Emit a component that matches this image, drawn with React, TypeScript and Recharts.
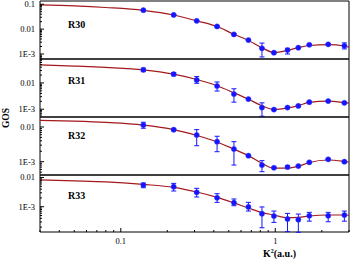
import { ComposedChart, XAxis, YAxis, Line, Scatter, ErrorBar, ReferenceArea } from 'recharts';

// measured K^2 positions (a.u.) and fit grid
const K2 = [0.14, 0.22, 0.31, 0.42, 0.54, 0.67, 0.82, 0.98, 1.2, 1.41, 1.66, 2.2, 2.8];
const fitK2 = [0.03, 0.05, 0.08, 0.14, 0.22, 0.31, 0.42, 0.54, 0.67, 0.82, 0.98, 1.2, 1.41, 1.66, 2.2, 2.8, 3.0];

const xTicks = [0.03, 0.04, 0.05, 0.06, 0.07, 0.08, 0.09, 0.1, 0.2, 0.3, 0.4, 0.5, 0.6, 0.7, 0.8, 0.9, 1, 2, 3];

// R30
const r30 = [0.0575, 0.0373, 0.0215, 0.0128, 0.00614, 0.00363, 0.00169, 0.00113, 0.00145, 0.00179, 0.00236, 0.00244, 0.00215];
const r30Lo = [0.0555, 0.036, 0.0207, 0.0123, 0.0059, 0.0035, 0.00076, 0.00108, 0.001, 0.00172, 0.00226, 0.00234, 0.0016];
const r30Hi = [0.0595, 0.0386, 0.0223, 0.0133, 0.0064, 0.0038, 0.00275, 0.00118, 0.00169, 0.00186, 0.00246, 0.00254, 0.0028];
const r30Fit = [0.095, 0.086, 0.074, 0.057, 0.037, 0.0215, 0.0128, 0.0062, 0.0035, 0.0018, 0.00115, 0.0014, 0.0018, 0.0022, 0.0024, 0.0021, 0.0019];

// R31
const r31 = [0.0316, 0.0216, 0.013, 0.00767, 0.00378, 0.00243, 0.00116, 0.00097, 0.00116, 0.00134, 0.00186, 0.00204, 0.00175];
const r31Lo = [0.027, 0.019, 0.0097, 0.00492, 0.00186, 0.00233, 0.00054, 0.00093, 0.00108, 0.00128, 0.00178, 0.00196, 0.00165];
const r31Hi = [0.037, 0.025, 0.0175, 0.0109, 0.006, 0.00253, 0.00175, 0.00101, 0.00124, 0.0014, 0.00194, 0.00212, 0.00186];
const r31Fit = [0.049, 0.044, 0.039, 0.0316, 0.0216, 0.0135, 0.0078, 0.0042, 0.0024, 0.00135, 0.00098, 0.00112, 0.00138, 0.00182, 0.00204, 0.00178, 0.0017];

// R32
const r32 = [0.0114, 0.00836, 0.00588, 0.00377, 0.00232, 0.00149, 0.0008, 0.00067, 0.0007, 0.00075, 0.00096, 0.00117, 0.001];
const r32Lo = [0.0092, 0.0078, 0.00289, 0.00194, 0.0008, 0.00143, 0.000515, 0.00064, 0.00063, 0.00072, 0.00092, 0.00112, 0.00096];
const r32Hi = [0.0137, 0.009, 0.0084, 0.0054, 0.00377, 0.00155, 0.00107, 0.0007, 0.00077, 0.00078, 0.001, 0.00122, 0.00104];
const r32Fit = [0.0156, 0.0147, 0.0135, 0.0113, 0.0084, 0.0057, 0.0037, 0.0023, 0.0015, 0.0009, 0.00065, 0.00065, 0.00074, 0.00095, 0.00112, 0.00102, 0.00098];

// R33
const r33 = [0.00554, 0.00484, 0.00311, 0.00203, 0.00137, 0.00098, 0.000575, 0.00048, 0.00038, 0.00036, 0.00049, 0.00049, 0.00052];
const r33Lo = [0.00447, 0.00345, 0.00215, 0.00141, 0.00108, 0.00071, 0.00019, 0.00029, 0.00014, 0.000133, 0.00032, 0.000306, 0.00032];
const r33Hi = [0.00648, 0.0063, 0.00427, 0.00279, 0.00184, 0.00141, 0.00098, 0.00071, 0.00059, 0.00056, 0.00064, 0.00064, 0.00071];
const r33Fit = [0.0083, 0.0077, 0.0071, 0.0058, 0.0046, 0.0032, 0.0021, 0.00135, 0.0009, 0.00063, 0.00052, 0.00042, 0.00043, 0.00048, 0.00052, 0.00052, 0.00051];

const serif = '"Liberation Serif", "Times New Roman", serif';
const blue = '#1414ff';
const red = '#a3191c';

const panels = [
  { name: 'R30', top: 1, h: 58, dom: [6.3e-4, 0.135], g: r30, lo: r30Lo, hi: r30Hi, fit: r30Fit, ly: 26.5 },
  { name: 'R31', top: 59, h: 58, dom: [5.06e-4, 0.0817], g: r31, lo: r31Lo, hi: r31Hi, fit: r31Fit, ly: 24.5 },
  { name: 'R32', top: 117, h: 58, dom: [4.14e-4, 0.0194], g: r32, lo: r32Lo, hi: r32Hi, fit: r32Fit, ly: 21.5 },
  { name: 'R33', top: 175, h: 57, dom: [1.36e-4, 0.0122], g: r33, lo: r33Lo, hi: r33Hi, fit: r33Fit, ly: 23.5 },
];

const PAD = 16;
const LEFT = 40;

const isDecade = (v: number) => {
  const l = Math.log10(v);
  return Math.abs(l - Math.round(l)) < 1e-6;
};

function yTicks(lo: number, hi: number) {
  const out: number[] = [];
  for (let e = -5; e <= 0; e++) {
    for (let m = 1; m <= 9; m++) {
      const v = Number((m * Math.pow(10, e)).toPrecision(6));
      if (v >= lo && v <= hi) out.push(v);
    }
  }
  return out;
}

const yText = (v: number) => (v >= 0.01 ? String(v) : '1E' + Math.round(Math.log10(v)));

function XTick(props: any, showLabel: boolean) {
  const { x, y, payload } = props;
  const major = isDecade(payload.value);
  return (
    <g>
      <line x1={x} x2={x} y1={y} y2={y - (major ? 4 : 2)} stroke="#000" strokeWidth={1} />
      {showLabel && major && (
        <text x={x} y={y + 12} textAnchor="middle" fontSize={8.5} fontFamily={serif} fill="#000">
          {payload.value}
        </text>
      )}
    </g>
  );
}

function YTick(props: any) {
  const { x, y, payload } = props;
  const major = isDecade(payload.value);
  return (
    <g>
      <line x1={x} x2={x + (major ? 4 : 2)} y1={y} y2={y} stroke="#000" strokeWidth={1} />
      {major && (
        <text x={x - 5} y={y} dy="0.35em" textAnchor="end" fontSize={8.5} fontFamily={serif} fill="#000">
          {yText(payload.value)}
        </text>
      )}
    </g>
  );
}

function Panel({ p, idx }: { p: (typeof panels)[number]; idx: number }) {
  const last = idx === panels.length - 1;
  const axisH = last ? 27 : 0;
  const height = PAD + p.h + (last ? axisH : PAD);
  const pts = K2.map((k, i) => ({ k, g: p.g[i], err: [p.g[i] - p.lo[i], p.hi[i] - p.g[i]] }));
  const fit = fitK2.map((k, i) => ({ k, g: p.fit[i] }));
  return (
    <div style={{ position: 'absolute', left: 0, top: p.top - PAD }}>
      <ComposedChart width={350} height={height} margin={{ top: PAD, right: 1, bottom: last ? 0 : PAD, left: 0 }}>
        <XAxis
          dataKey="k"
          type="number"
          scale="log"
          domain={[0.03, 3]}
          allowDataOverflow
          ticks={xTicks}
          interval={0}
          height={axisH}
          tickSize={0}
          tickMargin={0}
          axisLine={false}
          tickLine={false}
          tick={(t: any) => XTick(t, last)}
          label={
            last
              ? {
                  content: (lp: any) => (
                    <text x={263} y={lp.viewBox.y + 25} fontSize={10} fontWeight="bold" fontFamily={serif} fill="#000">
                      K<tspan fontSize={6} dy={-4}>2</tspan>
                      <tspan dy={4}>(a.u.)</tspan>
                    </text>
                  ),
                }
              : undefined
          }
        />
        <YAxis
          dataKey="g"
          type="number"
          scale="log"
          domain={p.dom}
          allowDataOverflow
          ticks={yTicks(p.dom[0], p.dom[1])}
          interval={0}
          width={LEFT}
          tickSize={0}
          tickMargin={0}
          axisLine={false}
          tickLine={false}
          tick={YTick}
          label={
            idx === 1
              ? {
                  content: (lp: any) => (
                    <text
                      x={6}
                      y={lp.viewBox.y + lp.viewBox.height + 1}
                      transform={`rotate(-90 6 ${lp.viewBox.y + lp.viewBox.height + 1})`}
                      textAnchor="middle"
                      dy="0.35em"
                      fontSize={9.5}
                      fontWeight="bold"
                      fontFamily={serif}
                      fill="#000"
                    >
                      GOS
                    </text>
                  ),
                }
              : undefined
          }
        />
        <ReferenceArea
          x1={0.03}
          x2={3}
          y1={p.dom[0]}
          y2={p.dom[1]}
          fill="none"
          stroke="#000"
          strokeWidth={1}
          ifOverflow="visible"
          label={{
            content: (lp: any) => (
              <text x={lp.viewBox.x + 28} y={lp.viewBox.y + p.ly} fontSize={10} fontWeight="bold" fontFamily={serif} fill="#000">
                {p.name}
              </text>
            ),
          }}
        />
        <Line data={fit} dataKey="g" type="monotone" stroke={red} strokeWidth={1.2} dot={false} isAnimationActive={false} />
        <Scatter
          data={pts}
          dataKey="g"
          fill={blue}
          isAnimationActive={false}
          shape={(s: any) => <circle cx={s.cx} cy={s.cy} r={2.6} fill={blue} stroke="#3c3cff" strokeWidth={0.5} />}
        >
          <ErrorBar dataKey="err" direction="y" width={2.5} stroke={blue} strokeWidth={1} isAnimationActive={false} />
        </Scatter>
      </ComposedChart>
    </div>
  );
}

export default function App() {
  return (
    <div style={{ position: 'absolute', left: 0, top: 0, width: 350, height: 259, background: '#fff', overflow: 'hidden' }}>
      {panels.map((p, i) => (
        <Panel key={p.name} p={p} idx={i} />
      ))}
    </div>
  );
}
